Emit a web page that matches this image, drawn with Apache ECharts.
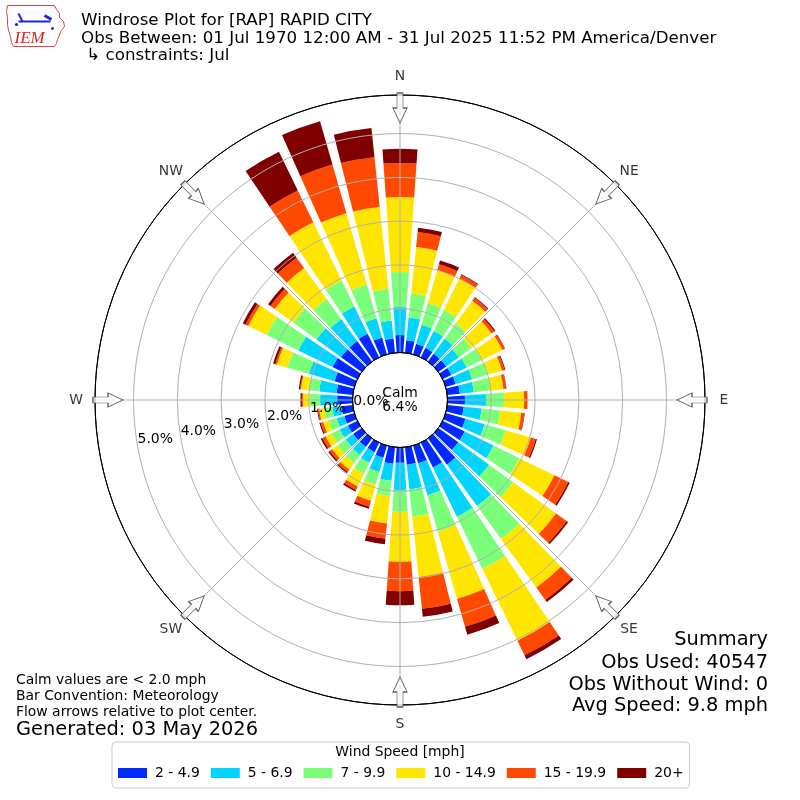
<!DOCTYPE html>
<html>
<head>
<meta charset="utf-8">
<script src="https://cdn.jsdelivr.net/npm/echarts/dist/echarts.min.js"></script>
<style>
html,body{margin:0;padding:0;background:#fff;}
#chart{width:800px;height:800px;}
</style>
</head>
<body>
<div id="chart"></div>
<script>
// ---------------- DATA ----------------
const directions = ['0','10','20','30','40','50','60','70','80','90','100','110','120','130','140','150','160','170',
                    '180','190','200','210','220','230','240','250','260','270','280','290','300','310','320','330','340','350'];
const speedBins = ['2 - 4.9','5 - 6.9','7 - 9.9','10 - 14.9','15 - 19.9','20+'];
const binColors = ['#002aff','#00d4ff','#7bff7b','#ffe600','#ff4800','#800000'];

// percent of observations per direction (0..350 deg) for each speed bin
const bin2to5   = [0.40,0.29,0.25,0.24,0.22,0.22,0.22,0.24,0.29,0.40,0.38,0.47,0.56,0.56,0.74,0.63,0.42,0.40,
                   0.35,0.38,0.29,0.24,0.24,0.24,0.24,0.24,0.26,0.35,0.37,0.47,0.63,0.58,0.58,0.60,0.40,0.33];
const bin5to7   = [0.64,0.52,0.45,0.43,0.43,0.36,0.39,0.39,0.32,0.48,0.41,0.46,0.73,0.87,1.17,1.25,0.76,0.57,
                   0.62,0.39,0.34,0.27,0.23,0.21,0.21,0.18,0.21,0.39,0.40,0.61,0.87,0.69,0.62,0.69,0.46,0.41];
const bin7to10  = [0.80,0.55,0.52,0.53,0.43,0.35,0.38,0.39,0.38,0.41,0.43,0.50,0.66,0.68,0.93,1.33,0.86,0.62,
                   0.50,0.35,0.30,0.28,0.23,0.22,0.20,0.19,0.18,0.23,0.25,0.51,0.80,0.66,0.57,0.66,0.80,0.73];
const bin10to15 = [1.71,1.07,0.78,0.80,0.64,0.57,0.53,0.32,0.30,0.46,0.48,0.59,0.89,1.21,1.37,1.82,1.60,1.39,
                   1.14,0.63,0.38,0.32,0.18,0.16,0.16,0.13,0.12,0.16,0.17,0.25,0.47,0.52,0.87,1.48,1.69,1.88];
const bin15to20 = [0.78,0.34,0.14,0.09,0.08,0.08,0.06,0.06,0.06,0.08,0.07,0.12,0.35,0.30,0.35,0.37,0.66,0.73,
                   0.67,0.35,0.14,0.09,0.07,0.07,0.08,0.06,0.03,0.03,0.02,0.04,0.07,0.12,0.29,0.81,1.16,1.14];
const bin20plus = [0.32,0.10,0.09,0.02,0.02,0.03,0.01,0.02,0.01,0.00,0.01,0.03,0.04,0.04,0.06,0.10,0.19,0.18,
                   0.32,0.13,0.05,0.04,0.03,0.04,0.04,0.03,0.02,0.03,0.03,0.05,0.07,0.07,0.14,0.98,1.03,0.67];
const binData = [bin2to5, bin5to7, bin7to10, bin10to15, bin15to20, bin20plus];

const radialMax = 5.88;          // percent at outer ring
const radialInterval = 1;         // 0.0% .. 5.0%
const compassNames  = ['N','NE','E','SE','S','SW','W','NW'];
const compassAngles = [0,45,90,135,180,225,270,315];
const calmPct = 6.4;

const titleLines = ['Windrose Plot for [RAP] RAPID CITY',
                    'Obs Between: 01 Jul 1970 12:00 AM - 31 Jul 2025 11:52 PM America/Denver',
                    ' \u21b3 constraints: Jul'];
const noteLines = ['Calm values are < 2.0 mph','Bar Convention: Meteorology','Flow arrows relative to plot center.'];
const generatedText = 'Generated: 03 May 2026';
const summaryLines = ['Summary','Obs Used: 40547','Obs Without Wind: 0','Avg Speed: 9.8 mph'];
const legendTitle = 'Wind Speed [mph]';

// ---------------- LAYOUT / STYLE ----------------
const FONT = 'DejaVu Sans';
const SMALL = '13.9px "DejaVu Sans"', MID = '16.7px "DejaVu Sans"', BIG = '19.4px "DejaVu Sans"';
const CX = 400, CY = 400, R0 = 47.5, R1 = 305, RLABEL = 324, RARROW = 292;
const arrowPath = 'path://M-3,0 L3,0 L3,15 L7,15 L0,30 L-7,15 L-3,15 Z';

const chart = echarts.init(document.getElementById('chart'), null, {renderer:'canvas'});

const hiddenAngle = {axisLine:{show:false}, axisTick:{show:false}, axisLabel:{show:false}, splitLine:{show:false}, splitArea:{show:false}};
const hiddenRadius = {axisLine:{show:false}, axisTick:{show:false}, axisLabel:{show:false}, splitLine:{show:false}, splitArea:{show:false}};

const barSeries = speedBins.map((name, i) => ({
  type:'bar', name: name, coordinateSystem:'polar', polarIndex:0, stack:'wind',
  data: binData[i], barCategoryGap:'20%',
  itemStyle:{color: binColors[i]}, z:2, silent:true
}));

const option = {
  animation:false,
  backgroundColor:'#fff',
  textStyle:{fontFamily:FONT},
  polar:[
    {center:[CX,CY], radius:[R0,R1]},
    {center:[CX,CY], radius:[R0,R1]},
    {center:[CX,CY], radius:[R0,R1]},
    {center:[CX,CY], radius:[0,RLABEL]}
  ],
  angleAxis:[
    Object.assign({polarIndex:0, type:'category', data:directions, startAngle:95, clockwise:true, boundaryGap:true}, hiddenAngle),
    {polarIndex:1, type:'value', min:0, max:360, interval:45, startAngle:90, clockwise:true, z:10,
     axisLine:{show:true, lineStyle:{color:'#000', width:1}}, axisTick:{show:false}, axisLabel:{show:false},
     splitLine:{show:true, lineStyle:{color:'#b0b0b0', width:1}}},
    Object.assign({polarIndex:2, type:'value', min:0, max:360, startAngle:190, clockwise:true}, hiddenAngle),
    Object.assign({polarIndex:3, type:'value', min:0, max:360, startAngle:90, clockwise:true}, hiddenAngle)
  ],
  radiusAxis:[
    Object.assign({polarIndex:0, type:'value', min:0, max:radialMax}, hiddenRadius),
    {polarIndex:1, type:'value', min:0, max:radialMax, interval:radialInterval, z:10,
     axisLine:{show:false}, axisTick:{show:false}, axisLabel:{show:false},
     splitLine:{show:true, lineStyle:{width:1, color:['#000','#b0b0b0','#b0b0b0','#b0b0b0','#b0b0b0','#b0b0b0','#000']}}},
    {polarIndex:2, type:'value', min:0, max:radialMax, interval:radialInterval, z:11,
     axisLine:{show:false}, axisTick:{show:false}, splitLine:{show:false},
     axisLabel:{show:true, margin:0, align:'left', verticalAlign:'bottom', fontSize:13.9, color:'#000', fontFamily:FONT,
       formatter:(v)=> (Math.abs(v - Math.round(v)) < 1e-6 ? v.toFixed(1) + '%' : '')}},
    Object.assign({polarIndex:3, type:'value', min:0, max:RLABEL}, hiddenRadius)
  ],
  legend:{
    data: speedBins, left:112, top:742, orient:'horizontal',
    itemWidth:29, itemHeight:10, itemGap:11, icon:'rect',
    padding:[24,6,8,6], borderColor:'#cccccc', borderWidth:1, borderRadius:4, backgroundColor:'#fff',
    selectedMode:false,
    textStyle:{fontSize:13.9, color:'#000', fontFamily:FONT, padding:[0,0,0,3]}
  },
  series: barSeries.concat([
    {type:'scatter', coordinateSystem:'polar', polarIndex:3, symbol:arrowPath, symbolSize:[14,30],
     data: compassAngles.map(a => ({value:[RARROW, a], symbolRotate:-a})),
     itemStyle:{color:'#fff', borderColor:'#333', borderWidth:1}, z:12, silent:true},
    {type:'scatter', coordinateSystem:'polar', polarIndex:3, symbolSize:1,
     data: compassAngles.map((a,i) => ({value:[RLABEL, a], name:compassNames[i]})),
     itemStyle:{color:'rgba(0,0,0,0)'}, z:12, silent:true,
     label:{show:true, position:'inside', formatter:(p)=>p.name, fontSize:13.9, color:'#000', fontFamily:FONT}}
  ]),
  graphic:[
    // IEM logo (simplified)
    {type:'group', left:6, top:5, z:20, children:[
      {type:'polygon', shape:{points:[[3,2],[50,2],[52,6],[55,10],[55,14],[59,18],[60,23],[56,28],[55,32],[53,36],[52,40],[50,43],[9,43],[7,39],[6,33],[4,27],[3,21],[3,14],[2,8]]},
       style:{fill:'#fff', stroke:'#d44', lineWidth:1}},
      {type:'line', shape:{x1:14,y1:18,x2:46,y2:18}, style:{stroke:'#1a2bd6', lineWidth:2}},
      {type:'line', shape:{x1:14,y1:10,x2:18,y2:18}, style:{stroke:'#1a2bd6', lineWidth:2}},
      {type:'line', shape:{x1:40,y1:12,x2:47,y2:16}, style:{stroke:'#1a2bd6', lineWidth:3}},
      {type:'circle', shape:{cx:12,cy:21,r:1.6}, style:{fill:'#1a2bd6'}},
      {type:'circle', shape:{cx:48,cy:25,r:1.4}, style:{fill:'#1a2bd6'}},
      {type:'text', style:{x:10, y:27, text:'IEM', font:'italic 17px "Liberation Serif"', fill:'#d22'}}
    ]},
    {type:'text', left:81, top:12, z:20, style:{text:titleLines.join('\n'), font:MID, lineHeight:17.5, fill:'#000'}},
    {type:'text', z:20, style:{x:CX, y:393, text:'Calm', textAlign:'center', textVerticalAlign:'middle', font:SMALL, fill:'#000'}},
    {type:'text', z:20, style:{x:CX, y:407, text:calmPct.toFixed(1)+'%', textAlign:'center', textVerticalAlign:'middle', font:SMALL, fill:'#000'}},
    {type:'text', z:20, style:{x:16, y:680, text:noteLines[0], textVerticalAlign:'middle', font:SMALL, fill:'#000'}},
    {type:'text', z:20, style:{x:16, y:696, text:noteLines[1], textVerticalAlign:'middle', font:SMALL, fill:'#000'}},
    {type:'text', z:20, style:{x:16, y:712, text:noteLines[2], textVerticalAlign:'middle', font:SMALL, fill:'#000'}},
    {type:'text', z:20, style:{x:16, y:730, text:generatedText, textVerticalAlign:'middle', font:BIG, fill:'#000'}},
    {type:'text', z:20, style:{x:768, y:640, text:summaryLines[0], textAlign:'right', textVerticalAlign:'middle', font:BIG, fill:'#000'}},
    {type:'text', z:20, style:{x:768, y:663, text:summaryLines[1], textAlign:'right', textVerticalAlign:'middle', font:BIG, fill:'#000'}},
    {type:'text', z:20, style:{x:768, y:685, text:summaryLines[2], textAlign:'right', textVerticalAlign:'middle', font:BIG, fill:'#000'}},
    {type:'text', z:20, style:{x:768, y:706, text:summaryLines[3], textAlign:'right', textVerticalAlign:'middle', font:BIG, fill:'#000'}},
    {type:'text', z:30, style:{x:400, y:752, text:legendTitle, textAlign:'center', textVerticalAlign:'middle', font:SMALL, fill:'#000'}}
  ]
};
chart.setOption(option);
</script>
</body>
</html>
